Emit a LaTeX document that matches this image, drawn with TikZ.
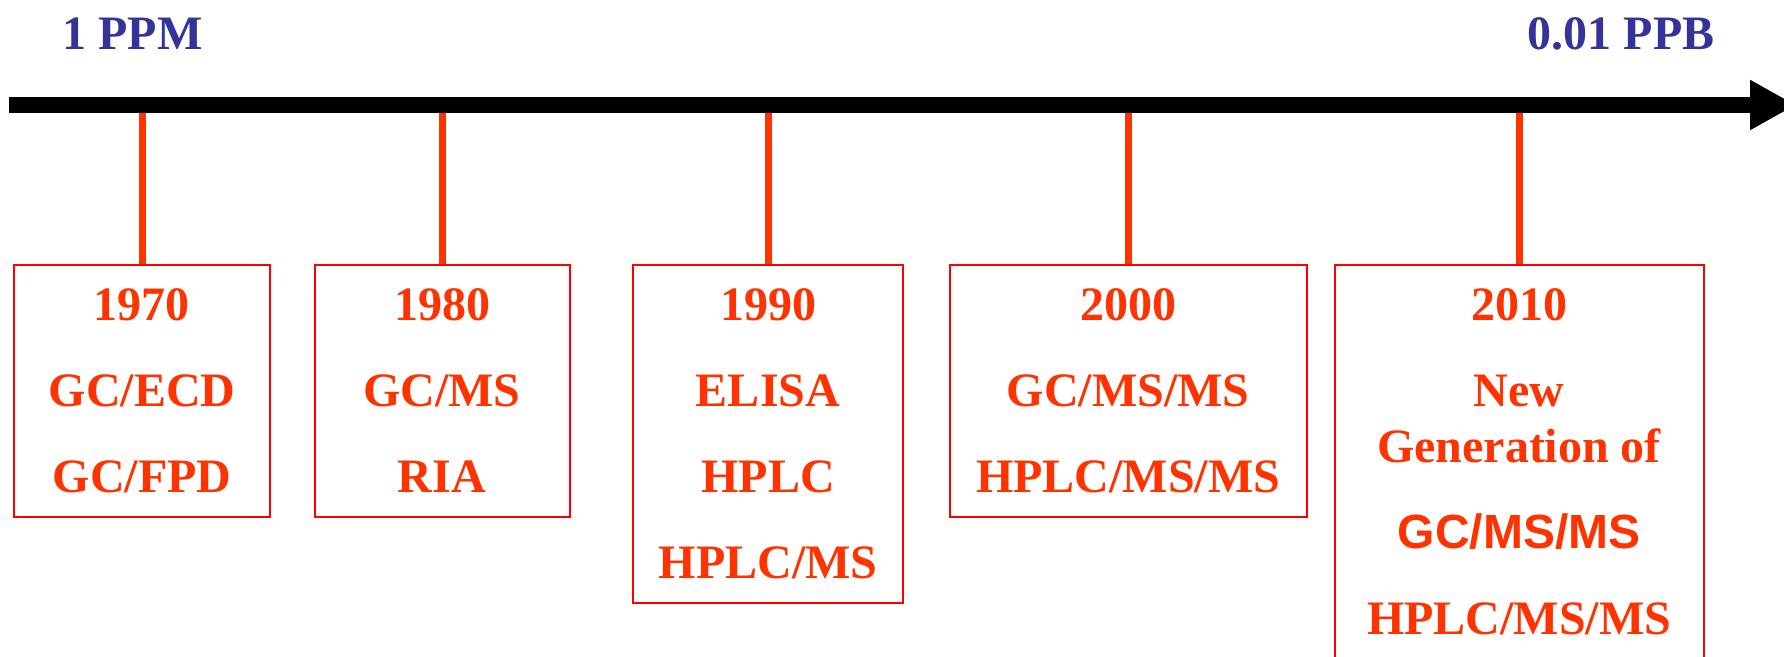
\documentclass[tikz,border=0pt]{standalone}
\usepackage{fontspec}
\setmainfont{Liberation Serif}
\setsansfont{Liberation Sans}
\usetikzlibrary{arrows.meta}
\definecolor{levelblue}{HTML}{333399}
\definecolor{eraorange}{HTML}{FF3300}
\tikzset{
    axis/.style={line width=8pt, -{Triangle[length=23pt, width=23.5pt]}},
    tick/.style={line width=3.5pt, eraorange},
    era/.style={draw=red, line width=1pt, text=eraorange, anchor=north,
        align=center, inner xsep=0pt, inner ysep=12pt,
        font=\fontsize{24}{43}\selectfont\bfseries},
    level/.style={text=levelblue, inner sep=0pt,
        font=\fontsize{24}{29}\selectfont\bfseries}
}

\begin{document}
\begin{tikzpicture}[x=0.5pt, y=-0.5pt]
    \useasboundingbox (0,0) rectangle (1784,657);
    % detection limits
    \node[level, anchor=base west] (ppm) at (62,50) {1 PPM};
    \node[level, anchor=base east] (ppb) at (1715,50) {0.01 PPB};
    \coordinate (axisstart) at (9,105);
    \coordinate (axisend) at (1796,105);
    % decades
    \node[era, minimum width=128pt] (y1970) at (142,264)
        {1970\\GC/ECD\\GC/FPD};
    \node[era, minimum width=127.5pt] (y1980) at (442,264)
        {1980\\GC/MS\\RIA};
    \node[era, minimum width=135pt] (y1990) at (768,264)
        {1990\\ELISA\\HPLC\\HPLC/MS};
    \node[era, minimum width=178.5pt] (y2000) at (1128,264)
        {2000\\GC/MS/MS\\HPLC/MS/MS};
    \node[era, minimum width=184.5pt] (y2010) at (1519,264)
        {2010\\New\\[-15pt]Generation of\\{\sffamily GC/MS/MS}\\HPLC/MS/MS};
    \draw[tick]
        (y1970.north) -- (y1970.north |- axisstart)
        (y1980.north) -- (y1980.north |- axisstart)
        (y1990.north) -- (y1990.north |- axisstart)
        (y2000.north) -- (y2000.north |- axisstart)
        (y2010.north) -- (y2010.north |- axisstart);
    \draw[axis] (axisstart) -- (axisend);
\end{tikzpicture}
\end{document}
